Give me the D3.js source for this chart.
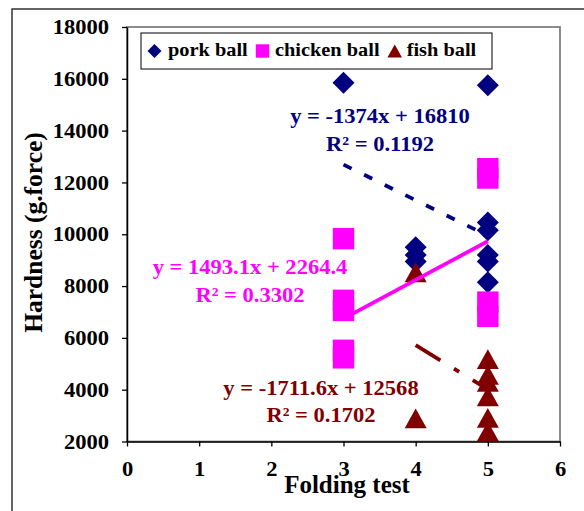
<!DOCTYPE html>
<html>
	<head>
		<meta charset="utf-8">
		<title>Hardness vs folding test</title>
		<style>
			html, body
			{
				margin: 0;
				background: #fff;
				overflow: hidden;
			}

			svg text
			{
				font-family: "Liberation Serif", "Times New Roman", serif;
				font-weight: bold;
			}
		</style>
	</head>
	<body>
		<svg id="chart" width="584" height="511"></svg>

		<script src="https://cdn.jsdelivr.net/npm/d3@7/dist/d3.min.js"></script>
		<script>
			// values
			let seriesNames = ["pork ball", "chicken ball", "fish ball"];
			let seriesColors = ["#000080", "#ff00ff", "#800000"];

			let porkX = [3, 5, 5, 5, 5, 5, 5, 4, 4, 4];
			let porkY = [15850, 15750, 10450, 10150, 9200, 8950, 8150, 9500, 9200, 8950];

			let chickenX = [3, 3, 3, 3, 3, 5, 5, 5, 5];
			let chickenY = [9830, 7450, 7060, 5520, 5230, 12530, 12170, 7380, 6830];

			let fishX = [4, 4, 5, 5, 5, 5, 5, 5];
			let fishY = [8530, 2890, 5180, 4570, 4300, 3740, 2910, 2390];

			// trendline equations as printed on the chart
			let trendSlope = [-1374, 1493.1, -1711.6];
			let trendIntercept = [16810, 2264.4, 12568];
			let trendR2 = ["0.1192", "0.3302", "0.1702"];

			let xTicks = [0, 1, 2, 3, 4, 5, 6];
			let yTicks = [2000, 4000, 6000, 8000, 10000, 12000, 14000, 16000, 18000];

			let svg = d3.select("#chart");
			let stretch = 1.1;   // the source text is a little wide

			let x = d3.scaleLinear().domain([0, 6]).range([127, 560]);
			let y = d3.scaleLinear().domain([2000, 18000]).range([441.5, 27]);

			// outer frame (only left and top show)
			svg.append("rect")
				.attr("x", 12).attr("y", 9)
				.attr("width", 620).attr("height", 540)
				.attr("fill", "none").attr("stroke", "#000").attr("stroke-width", 1.2);

			// plot area border
			svg.append("rect")
				.attr("x", x(0)).attr("y", y(18000))
				.attr("width", x(6) - x(0)).attr("height", y(2000) - y(18000))
				.attr("fill", "none").attr("stroke", "#808080").attr("stroke-width", 1.8);

			function label(px, py, text, size, color, anchor)
			{
				return svg.append("text")
					.attr("transform", `translate(${px},${py}) scale(${stretch},1)`)
					.attr("text-anchor", anchor)
					.attr("font-size", size)
					.attr("fill", color)
					.text(text);
			}

			// axes
			let yAxis = svg.append("g")
				.attr("transform", `translate(${x(0)},0)`)
				.call(d3.axisLeft(y).tickValues(yTicks).tickFormat(d3.format("d"))
					.tickSize(5).tickPadding(11).tickSizeOuter(0));

			let xAxis = svg.append("g")
				.attr("transform", `translate(0,${y(2000)})`)
				.call(d3.axisBottom(x).tickValues(xTicks).tickFormat(d3.format("d"))
					.tickSize(5).tickPadding(15).tickSizeOuter(0));

			for (let ax of [yAxis, xAxis])
			{
				ax.select(".domain").attr("stroke", "#000").attr("stroke-width", 1.5);
				ax.selectAll(".tick line").attr("stroke", "#000").attr("stroke-width", 1.3);
				ax.selectAll(".tick text")
					.attr("font-family", null)
					.attr("font-size", 20.5)
					.attr("fill", "#000")
					.attr("transform", `scale(${stretch},1)`);
			}
			yAxis.selectAll(".tick text").attr("x", -16.4);

			svg.append("text")
				.attr("transform", `translate(41.7,232.5) rotate(-90)`)
				.attr("text-anchor", "middle")
				.attr("font-size", 25.5)
				.text("Hardness (g.force)");

			svg.append("text")
				.attr("x", 347).attr("y", 493)
				.attr("text-anchor", "middle")
				.attr("font-size", 25)
				.text("Folding test");

			// marker shapes
			function diamond(r) { return `M0,${-r}L${r},0L0,${r}L${-r},0Z`; }
			function square(r) { return `M${-r},${-r}H${r}V${r}H${-r}Z`; }
			function triangle(r) { return `M0,${-r * 0.9}L${r},${r * 0.9}L${-r},${r * 0.9}Z`; }

			let shapes = [diamond, square, triangle];
			let markerSize = [11, 10.7, 11];

			let series = [
				{ xs: porkX, ys: porkY },
				{ xs: chickenX, ys: chickenY },
				{ xs: fishX, ys: fishY }
			];

			series.forEach((s, i) =>
			{
				svg.append("g").selectAll("path")
					.data(s.xs.map((v, j) => [v, s.ys[j]]))
					.join("path")
					.attr("d", shapes[i](markerSize[i]))
					.attr("transform", (d) => `translate(${x(d[0])},${y(d[1])})`)
					.attr("fill", seriesColors[i]);
			});

			// trendlines over the markers
			let dashes = ["9,14", null, "29,16,6,16"];

			series.forEach((s, i) =>
			{
				let x0 = d3.min(s.xs), x1 = d3.max(s.xs);
				svg.append("line")
					.attr("x1", x(x0)).attr("y1", y(trendSlope[i] * x0 + trendIntercept[i]))
					.attr("x2", x(x1)).attr("y2", y(trendSlope[i] * x1 + trendIntercept[i]))
					.attr("stroke", seriesColors[i])
					.attr("stroke-width", 3.8)
					.attr("stroke-dasharray", dashes[i]);
			});

			// equation labels
			let eqPos = [[380, 123, 151], [250, 274, 302], [321, 395, 422]];

			series.forEach((s, i) =>
			{
				let slope = trendSlope[i];
				label(eqPos[i][0], eqPos[i][1], `y = ${slope}x + ${trendIntercept[i]}`, 20.5, seriesColors[i], "middle");
				label(eqPos[i][0], eqPos[i][2], `R\u00b2 = ${trendR2[i]}`, 20.5, seriesColors[i], "middle");
			});

			// legend
			svg.append("rect")
				.attr("x", 141).attr("y", 33)
				.attr("width", 351).attr("height", 36)
				.attr("fill", "#fff").attr("stroke", "#000").attr("stroke-width", 1);

			let legendMarkX = [154.5, 262.5, 394.7];
			let legendTextX = [168, 275, 406.7];
			let legendMarkSize = [7, 6.7, 7.3];

			seriesNames.forEach((name, i) =>
			{
				svg.append("path")
					.attr("d", shapes[i](legendMarkSize[i]))
					.attr("transform", `translate(${legendMarkX[i]},51)`)
					.attr("fill", seriesColors[i]);

				label(legendTextX[i], 56, name, 18.5, "#000", "start");
			});
		</script>
	</body>
</html>
